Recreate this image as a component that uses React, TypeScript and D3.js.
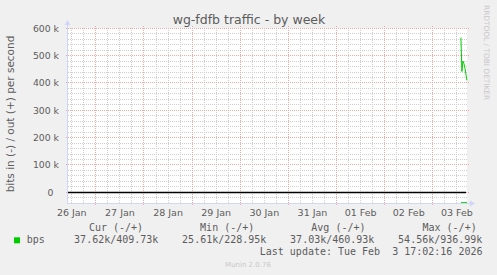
import React from "react";
import * as d3 from "d3";

// ---- data ----
const title = "wg-fdfb traffic - by week";
const yLabel = "bits in (-) / out (+) per second";
const sideLabel = "RRDTOOL / TOBI OETIKER";
const times = [
  "2026-02-03T14:00",
  "2026-02-03T14:30",
  "2026-02-03T15:00",
  "2026-02-03T15:30",
  "2026-02-03T16:00",
  "2026-02-03T16:30",
  "2026-02-03T17:00",
];
const outValues = [566000, 442000, 480000, 471000, 455000, 432000, 409730];
const inValues = [36500, 37000, 37800, 37200, 36400, 37100, 37620];
const yTicks = [0, 100000, 200000, 300000, 400000, 500000, 600000];
const legendName = "bps";
const legendHeaders = ["Cur (-/+)", "Min (-/+)", "Avg (-/+)", "Max (-/+)"];
const legendValues = ["37.62k/409.73k", "25.61k/228.95k", "37.03k/460.93k", "54.56k/936.99k"];
const lastUpdate = "Last update: Tue Feb  3 17:02:16 2026";
const footer = "Munin 2.0.76";
const startTime = "2026-01-26T09:37";
const endTime = "2026-02-03T17:02";
const yMin = -39000;
const yMax = 600000;

const parse = d3.timeParse("%Y-%m-%dT%H:%M");
const fl = (v: number) => Math.floor(v);

export default function App() {
  const W = 497, H = 275;
  const x0 = 67, x1 = 467, yTop = 28, yBot = 203;
  const x = d3.scaleTime().domain([parse(startTime)!, parse(endTime)!]).range([x0, x1]);
  const y = d3.scaleLinear().domain([yMin, yMax]).range([yBot, yTop + 0.3]);

  const days = d3.timeDay.range(d3.timeDay.ceil(x.domain()[0]), x.domain()[1]);
  const sixH = d3.timeHour.every(6)!.range(x.domain()[0], x.domain()[1]).filter((d) => d.getHours() !== 0);
  const noons = d3.timeHour.every(12)!.range(d3.timeDay.floor(x.domain()[0]), x.domain()[1]).filter((d) => d.getHours() === 12);
  const minorY = d3.range(-20000, yMax, 20000).filter((v) => v % 100000 !== 0 && v >= yMin);

  const pts = times.map((t, i) => ({ t: parse(t)!, o: outValues[i], n: -inValues[i] }));
  const lineOut = d3.line<any>().x((d) => x(d.t)).y((d) => y(d.o))(pts)!;
  const lineIn = d3.line<any>().x((d) => x(d.t)).y((d) => y(d.n))(pts)!;

  const font = "DejaVu Sans, sans-serif";
  const mono = "DejaVu Sans Mono, monospace";
  const fc = "#5c5c5c";
  const fmtDay = d3.timeFormat("%d %b");
  const minorC = "#cfcfcf";
  const majorC = "#eea8a8";

  return (
    <svg width={W} height={H} style={{ position: "absolute", left: 0, top: 0, background: "#f0f0f0" }}>
      <defs>
        <pattern id="vMin" width={1} height={2} patternUnits="userSpaceOnUse">
          <rect width={1} height={1} fill={minorC} />
        </pattern>
        <pattern id="hMin" width={2} height={1} patternUnits="userSpaceOnUse">
          <rect width={1} height={1} fill={minorC} />
        </pattern>
        <pattern id="vMaj" width={1} height={2} patternUnits="userSpaceOnUse">
          <rect width={1} height={1} fill={majorC} />
        </pattern>
        <pattern id="hMaj" width={2} height={1} patternUnits="userSpaceOnUse">
          <rect width={1} height={1} fill={majorC} />
        </pattern>
      </defs>
      <rect x={0} y={0} width={W} height={H} fill="#f0f0f0" />
      <rect x={x0} y={yTop} width={x1 - x0} height={yBot - yTop} fill="#fff" />
      {/* minor grid */}
      {minorY.map((v) => (
        <rect key={"my" + v} x={x0} y={fl(y(v))} width={x1 - x0} height={1} fill="url(#hMin)" />
      ))}
      {sixH.map((d) => (
        <rect key={"mx" + +d} x={fl(x(d))} y={yTop} width={1} height={yBot - yTop} fill="url(#vMin)" />
      ))}
      {/* major grid */}
      {yTicks.map((v) => (
        <rect key={"My" + v} x={x0 - 2} y={fl(y(v))} width={x1 - x0 + 4} height={1} fill="url(#hMaj)" />
      ))}
      {days.map((d) => (
        <rect key={"Mx" + +d} x={fl(x(d))} y={yTop - 2} width={1} height={yBot - yTop + 4} fill="url(#vMaj)" />
      ))}
      {/* zero rule */}
      <line x1={x0} x2={x1 - 1} y1={fl(y(0)) + 0.5} y2={fl(y(0)) + 0.5} stroke="#000" strokeWidth={1.3} />
      {/* data */}
      <path d={lineOut} fill="none" stroke="#00cc00" strokeWidth={1} />
      <path d={lineIn} fill="none" stroke="#00cc00" strokeWidth={1} />
      {/* axes */}
      <line x1={x0 + 0.5} x2={x0 + 0.5} y1={yBot} y2={yTop - 4} stroke="#cfd6f8" strokeWidth={1} />
      <path d={`M${x0 - 2.5},${yTop - 3} L${x0 + 3.5},${yTop - 3} L${x0 + 0.5},${yTop - 8} Z`} fill="#cfd6f8" />
      <line x1={x0} x2={x1 + 4} y1={yBot + 0.5} y2={yBot + 0.5} stroke="#cfd6f8" strokeWidth={1} />
      <path d={`M${x1 + 3},${yBot - 2.5} L${x1 + 3},${yBot + 3.5} L${x1 + 8},${yBot + 0.5} Z`} fill="#cfd6f8" />
      {/* y tick labels */}
      {yTicks.map((v) => (
        <text key={"yl" + v} x={59} dx={v === 0 ? -5.6 : 0} y={y(v) + 3.4} textAnchor="end" fontFamily={font} fontSize={9.3} fill={fc}>
          {v === 0 ? "0" : `${v / 1000} k`}
        </text>
      ))}
      {/* x tick labels */}
      {noons.map((d) => (
        <text key={"xl" + +d} x={x(d)} y={215.5} textAnchor="middle" fontFamily={font} fontSize={9.5} fill={fc}>
          {fmtDay(d)}
        </text>
      ))}
      {/* title */}
      <text x={249} y={23.5} textAnchor="middle" fontFamily={font} fontSize={12.5} fill={fc}>{title}</text>
      {/* y label */}
      <text transform={`translate(13.8,${114}) rotate(-90)`} textAnchor="middle" fontFamily={font} fontSize={10.5} fill={fc}>{yLabel}</text>
      {/* side label */}
      <text transform="translate(483.5,5) rotate(90)" fontFamily={font} fontSize={7.4} fill="#c8c8c8">{sideLabel}</text>
      {/* legend */}
      {legendHeaders.map((h, i) => (
        <text key={"lh" + i} x={116 + i * 111.2} y={231} textAnchor="middle" fontFamily={mono} fontSize={10} fill={fc} style={{ whiteSpace: "pre" }}>{h}</text>
      ))}
      <rect x={14} y={237.3} width={6} height={6} fill="#00cc00" />
      <text x={26.7} y={243} fontFamily={mono} fontSize={10} fill={fc}>{legendName}</text>
      {legendValues.map((v, i) => (
        <text key={"lv" + i} x={158.4 + i * 108} y={243} textAnchor="end" fontFamily={mono} fontSize={10} fill={fc}>{v}</text>
      ))}
      <text x={482.5} y={255} textAnchor="end" fontFamily={mono} fontSize={10} fill={fc} style={{ whiteSpace: "pre" }}>{lastUpdate}</text>
      <text x={248} y={267} textAnchor="middle" fontFamily={font} fontSize={7} fill="#c8c8c8">{footer}</text>
    </svg>
  );
}
